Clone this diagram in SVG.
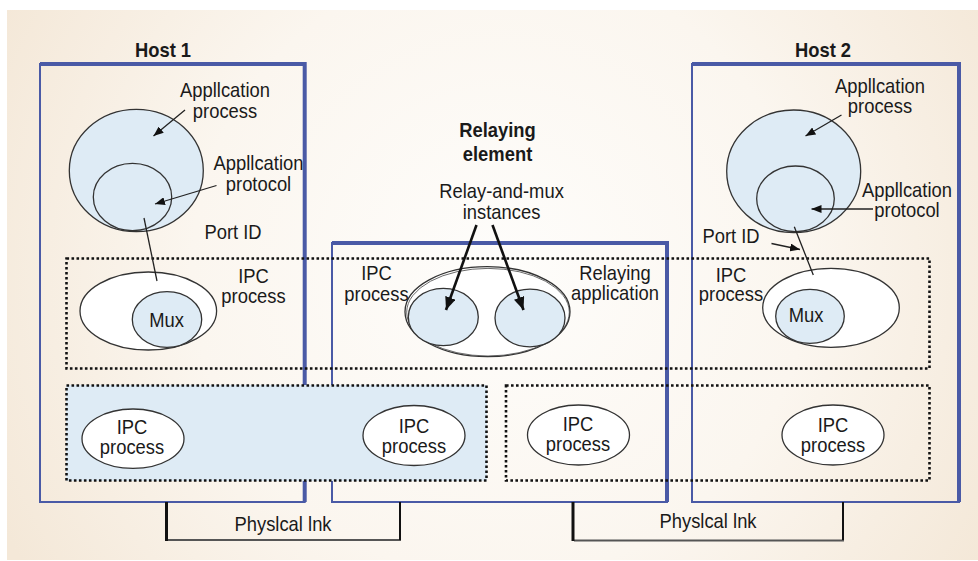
<svg xmlns="http://www.w3.org/2000/svg" width="978" height="561" viewBox="0 0 978 561">
  <defs>
    <radialGradient id="bg" cx="500" cy="270" r="560" gradientUnits="userSpaceOnUse">
      <stop offset="0" stop-color="#fefdfb"/>
      <stop offset="0.55" stop-color="#fbf6ef"/>
      <stop offset="1" stop-color="#f4e8d8"/>
    </radialGradient>
    <marker id="ah" viewBox="0 0 10 8" refX="10" refY="4" markerWidth="10" markerHeight="8" markerUnits="userSpaceOnUse" orient="auto">
      <path d="M0,0 L10,4 L0,8 z" fill="#111"/>
    </marker>
    <marker id="ahBig" viewBox="0 0 12 10" refX="12" refY="5" markerWidth="13" markerHeight="11" markerUnits="userSpaceOnUse" orient="auto">
      <path d="M0,0 L12,5 L0,10 z" fill="#111"/>
    </marker>
  </defs>
  <style>
    .host { fill: none; stroke: #4a5aa6; stroke-width: 2; }
    .hostTop { fill: none; stroke: #4a5aa6; stroke-width: 4; }
    .dotted { fill: none; stroke: #111; stroke-width: 2.6; stroke-dasharray: 2.6 2.4; }
    .shade { fill: #deebf5; }
    .ell { fill: #ffffff; stroke: #333; stroke-width: 1.3; }
    .ellBlue { fill: #deebf5; stroke: #333; stroke-width: 1.3; }
    .thin { fill: none; stroke: #222; stroke-width: 1.3; }
    .thick { fill: none; stroke: #111; stroke-width: 2.6; }
    .lbl { font-family: "Liberation Sans", Arial, sans-serif; font-size: 20px; fill: #1a1a1a; text-anchor: middle; }
    .bold { font-weight: bold; }
  </style>

  <!-- backdrop -->
  <rect x="7" y="10" width="971" height="550" fill="url(#bg)"/>

  <!-- host enclosures -->
  <g id="host1">
    <rect class="host" x="40" y="64" width="264.7" height="438"/>
    <path class="hostTop" d="M40,64 H304.7 V502"/>
    <text class="lbl bold" transform="translate(163,57) scale(0.92,1)">Host 1</text>
  </g>
  <g id="relaying-element">
    <rect class="host" x="332" y="243" width="335" height="259"/>
    <path class="hostTop" d="M332,243 H667 V502"/>
    <text class="lbl bold" transform="translate(497.5,137) scale(0.92,1)"><tspan x="0" y="0">Relaying</tspan><tspan x="0" y="24.5">element</tspan></text>
  </g>
  <g id="host2">
    <rect class="host" x="692" y="64" width="267" height="438"/>
    <path class="hostTop" d="M692,64 H959 V502"/>
    <text class="lbl bold" transform="translate(823,57) scale(0.92,1)">Host 2</text>
  </g>

  <!-- DIF layers -->
  <g id="upper-dif">
    <rect class="dotted" x="66.5" y="258.5" width="863" height="110"/>
  </g>
  <g id="lower-dif-left">
    <rect class="shade" x="66" y="385" width="421" height="96"/>
    <rect class="dotted" x="66.5" y="385.5" width="420" height="95"/>
  </g>
  <g id="lower-dif-right">
    <rect class="dotted" x="506" y="385.5" width="423.5" height="95"/>
  </g>

  <!-- physical links -->
  <g id="physical-link-1">
    <path d="M400,502 V540 H167" fill="none" stroke="#555" stroke-width="2"/>
    <path d="M166.5,502 V541" fill="none" stroke="#111" stroke-width="3"/>
    <path d="M400,502 V540" fill="none" stroke="#111" stroke-width="2"/>
    <text class="lbl" transform="translate(283,531) scale(0.92,1)">Physlcal lnk</text>
  </g>
  <g id="physical-link-2">
    <path d="M843,502 V540.5 H574" fill="none" stroke="#555" stroke-width="2"/>
    <path d="M573,502 V541" fill="none" stroke="#111" stroke-width="3"/>
    <path d="M843,502 V540" fill="none" stroke="#111" stroke-width="2"/>
    <text class="lbl" transform="translate(708,528) scale(0.92,1)">Physlcal lnk</text>
  </g>

  <!-- Host 1 application -->
  <g id="h1-app-process">
    <ellipse class="ellBlue" cx="136.3" cy="170.5" rx="67" ry="61.2"/>
    <text class="lbl" transform="translate(225,97) scale(0.92,1)"><tspan x="0" y="0">Appllcation</tspan><tspan x="0" y="21">process</tspan></text>
  </g>
  <g id="h1-app-protocol">
    <ellipse class="ellBlue" cx="132.5" cy="197" rx="39.2" ry="33.7"/>
    <text class="lbl" transform="translate(258.5,170) scale(0.92,1)"><tspan x="0" y="0">Appllcation</tspan><tspan x="0" y="21.5">protocol</tspan></text>
  </g>
  <g id="h1-port-id">
    <text class="lbl" transform="translate(233,239) scale(0.92,1)">Port ID</text>
  </g>
  <g id="h1-ipc">
    <ellipse class="ell" cx="148.3" cy="311" rx="68.3" ry="39"/>
    <text class="lbl" transform="translate(253.5,283) scale(0.92,1)"><tspan x="0" y="0">IPC</tspan><tspan x="0" y="20.5">process</tspan></text>
  </g>
  <g id="h1-mux">
    <ellipse class="ellBlue" cx="167" cy="319.5" rx="34.7" ry="27.8"/>
    <text class="lbl" transform="translate(166.5,326.5) scale(0.92,1)">Mux</text>
  </g>
  <g id="h1-ipc-lower">
    <ellipse class="ell" cx="133" cy="438.7" rx="51" ry="29.7"/>
    <text class="lbl" transform="translate(132,434) scale(0.92,1)"><tspan x="0" y="0">IPC</tspan><tspan x="0" y="20">process</tspan></text>
  </g>

  <!-- Relaying element -->
  <g id="relay-ipc">
    <ellipse class="ell" cx="487.5" cy="311.7" rx="82.5" ry="45"/>
    <ellipse cx="488" cy="312.2" rx="81.3" ry="43.8" fill="none" stroke="#444" stroke-width="0.8"/>
    <text class="lbl" transform="translate(376.5,280) scale(0.92,1)"><tspan x="0" y="0">IPC</tspan><tspan x="0" y="21">process</tspan></text>
  </g>
  <g id="relay-mux-1">
    <ellipse class="ellBlue" cx="443.3" cy="317" rx="35" ry="28.7"/>
  </g>
  <g id="relay-mux-2">
    <ellipse class="ellBlue" cx="530" cy="318" rx="35" ry="28.8"/>
  </g>
  <g id="relay-labels">
    <text class="lbl" transform="translate(501.5,198) scale(0.92,1)"><tspan x="0" y="0">Relay-and-mux</tspan><tspan x="0" y="21">instances</tspan></text>
    <text class="lbl" transform="translate(615,280) scale(0.92,1)"><tspan x="0" y="0">Relaying</tspan><tspan x="0" y="20.5">application</tspan></text>
  </g>
  <g id="ipc-lower-a">
    <ellipse class="ell" cx="414" cy="435.5" rx="51" ry="30"/>
    <text class="lbl" transform="translate(414,433) scale(0.92,1)"><tspan x="0" y="0">IPC</tspan><tspan x="0" y="20">process</tspan></text>
  </g>
  <g id="ipc-lower-b">
    <ellipse class="ell" cx="578.5" cy="435" rx="51" ry="30"/>
    <text class="lbl" transform="translate(578,431) scale(0.92,1)"><tspan x="0" y="0">IPC</tspan><tspan x="0" y="20">process</tspan></text>
  </g>

  <!-- Host 2 application -->
  <g id="h2-app-process">
    <ellipse class="ellBlue" cx="793.7" cy="171.3" rx="67" ry="61.3"/>
    <text class="lbl" transform="translate(880,92.5) scale(0.92,1)"><tspan x="0" y="0">Appllcation</tspan><tspan x="0" y="20.5">process</tspan></text>
  </g>
  <g id="h2-app-protocol">
    <ellipse class="ellBlue" cx="795.5" cy="198.8" rx="38.8" ry="32.8"/>
    <text class="lbl" transform="translate(907,196.5) scale(0.92,1)"><tspan x="0" y="0">Appllcation</tspan><tspan x="0" y="20.5">protocol</tspan></text>
  </g>
  <g id="h2-port-id">
    <text class="lbl" transform="translate(731,243) scale(0.92,1)">Port ID</text>
  </g>
  <g id="h2-ipc">
    <ellipse class="ell" cx="831" cy="307.8" rx="68.3" ry="39.5"/>
    <text class="lbl" transform="translate(731,281.5) scale(0.92,1)"><tspan x="0" y="0">IPC</tspan><tspan x="0" y="20">process</tspan></text>
  </g>
  <g id="h2-mux">
    <ellipse class="ellBlue" cx="810" cy="316.3" rx="34.3" ry="27"/>
    <text class="lbl" transform="translate(806,321.5) scale(0.92,1)">Mux</text>
  </g>
  <g id="h2-ipc-lower">
    <ellipse class="ell" cx="833" cy="435" rx="51" ry="30"/>
    <text class="lbl" transform="translate(833,432) scale(0.92,1)"><tspan x="0" y="0">IPC</tspan><tspan x="0" y="20">process</tspan></text>
  </g>

  <!-- connectors -->
  <g id="connectors">
    <line class="thin" x1="185" y1="110" x2="153.5" y2="136" marker-end="url(#ah)"/>
    <line class="thin" x1="216.5" y1="185.5" x2="155" y2="204" marker-end="url(#ah)"/>
    <line class="thin" x1="144" y1="218" x2="157" y2="281"/>
    <line class="thick" x1="476.5" y1="225" x2="446" y2="310" marker-end="url(#ahBig)"/>
    <line class="thick" x1="492.5" y1="225" x2="523.5" y2="310" marker-end="url(#ahBig)"/>
    <line class="thin" x1="841.5" y1="115" x2="805.5" y2="136" marker-end="url(#ah)"/>
    <line class="thin" x1="873" y1="209" x2="811.5" y2="209" marker-end="url(#ah)"/>
    <line class="thin" x1="794.3" y1="226.7" x2="813.3" y2="275"/>
    <line class="thin" x1="771.5" y1="243.5" x2="800" y2="249.5" marker-end="url(#ah)"/>
  </g>
</svg>
